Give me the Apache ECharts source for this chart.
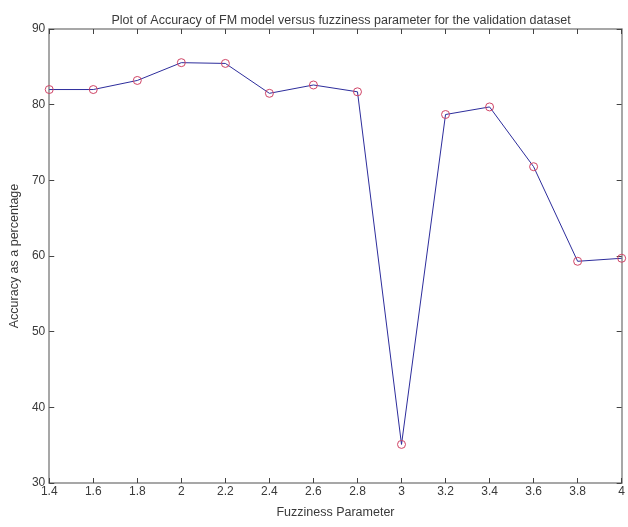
<!DOCTYPE html>
<html>
<head>
<meta charset="utf-8">
<script src="https://cdn.jsdelivr.net/npm/echarts@6/dist/echarts.min.js"></script>
<style>html,body{margin:0;padding:0;background:#fff;}#c{width:628px;height:527px;}</style>
</head>
<body>
<div id="c"></div>
<script>
const fuzziness = [1.4, 1.6, 1.8, 2.0, 2.2, 2.4, 2.6, 2.8, 3.0, 3.2, 3.4, 3.6, 3.8, 4.0];
const accuracy = [82.0, 82.0, 83.2, 85.55, 85.45, 81.5, 82.6, 81.7, 35.1, 78.7, 79.7, 71.8, 59.3, 59.7];
const yTicks = [30, 40, 50, 60, 70, 80, 90];
const titleText = 'Plot of Accuracy of FM model versus fuzziness parameter for the validation dataset';
const xName = 'Fuzziness Parameter';
const yName = 'Accuracy as a percentage';

const txt = '#3a3a3a';
const axisCol = '#8a8a8a';
const font = 'Liberation Sans, Arial, sans-serif';
const fmt = v => String(Math.round(v * 10) / 10);

const chart = echarts.init(document.getElementById('c'), null, {renderer: 'canvas'});
const baseX = {
  type: 'value', min: 1.4, max: 4, interval: 0.2,
  axisLine: {show: true, onZero: false, lineStyle: {color: axisCol, width: 1.5}},
  axisTick: {show: true, inside: true, length: 5, lineStyle: {color: '#444', width: 1}},
  splitLine: {show: false}
};
const baseY = {
  type: 'value', min: yTicks[0], max: yTicks[yTicks.length - 1], interval: 10,
  axisLine: {show: true, onZero: false, lineStyle: {color: axisCol, width: 1.5}},
  axisTick: {show: true, inside: true, length: 5, lineStyle: {color: '#444', width: 1}},
  splitLine: {show: false}
};
chart.setOption({
  animation: false,
  backgroundColor: '#fff',
  title: {
    text: titleText, left: 336, top: 9, textAlign: 'center',
    textStyle: {fontFamily: font, fontSize: 12.5, fontWeight: 'normal', color: txt}
  },
  grid: {left: 49, right: 6, top: 29, bottom: 44, containLabel: false},
  xAxis: [
    Object.assign({}, baseX, {
      position: 'bottom',
      name: xName, nameLocation: 'middle', nameGap: 23,
      nameTextStyle: {fontFamily: font, fontSize: 12.5, color: txt},
      axisLabel: {show: true, margin: 3, formatter: fmt, fontFamily: font, fontSize: 12, color: txt}
    }),
    Object.assign({}, baseX, {position: 'top', axisLabel: {show: false}})
  ],
  yAxis: [
    Object.assign({}, baseY, {
      position: 'left',
      name: yName, nameLocation: 'middle', nameGap: 25,
      nameTextStyle: {fontFamily: font, fontSize: 12.5, color: txt},
      axisLabel: {show: true, margin: 4, fontFamily: font, fontSize: 12, color: txt}
    }),
    Object.assign({}, baseY, {position: 'right', axisLabel: {show: false}})
  ],
  series: [{
    type: 'line',
    xAxisIndex: 0, yAxisIndex: 0,
    data: fuzziness.map((x, i) => [x, accuracy[i]]),
    symbol: 'circle', symbolSize: 8,
    showAllSymbol: true,
    lineStyle: {color: '#2d2d9c', width: 1},
    itemStyle: {color: 'rgba(255,255,255,0)', borderColor: '#d04466', borderWidth: 1},
    emphasis: {disabled: true}
  }]
});
</script>
</body>
</html>
